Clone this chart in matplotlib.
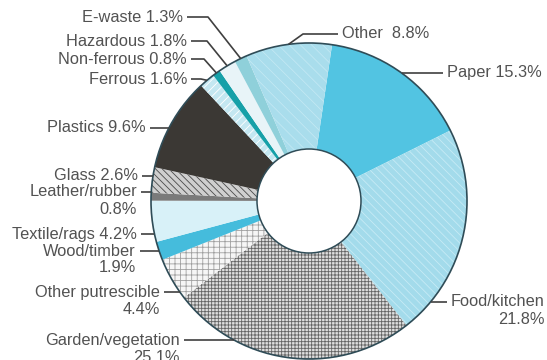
import numpy as np
import matplotlib
matplotlib.use("Agg")
import matplotlib.pyplot as plt

# Waste composition (percent), clockwise from the top
categories = ["Paper", "Food/kitchen", "Garden/vegetation", "Other putrescible",
              "Wood/timber", "Textile/rags", "Leather/rubber", "Glass", "Plastics",
              "Ferrous", "Non-ferrous", "Hazardous", "E-waste", "Other"]
values = [15.3, 21.8, 25.1, 4.4, 1.9, 4.2, 0.8, 2.6, 9.6, 1.6, 0.8, 1.8, 1.3, 8.8]

faces = ["#52c4e2", "#a3dbeb", "#dedede", "#f6f6f6", "#45bcdc", "#d8f1f8", "#7a7a7a",
         "#cfcfcf", "#3b3834", "#c4e7f1", "#16a0a8", "#e8f4f8", "#8fd0da", "#a9ddec"]
hatches = [None, "\\\\\\\\", "+++++", "+++", None, None, None,
           "\\\\\\\\\\", None, "////", None, None, None, "\\\\\\"]
hatch_cols = ["#52c4e2", "#c6ebf5", "#646464", "#a0a0a0", "#45bcdc", "#d8f1f8", "#7a7a7a",
              "#4a4a4a", "#3b3834", "#ffffff", "#16a0a8", "#e8f4f8", "#8fd0da", "#c2e8f3"]

W, H = 547, 360
CX, CY = 309, 201          # centre in pixel space (y down)
R_OUT, R_IN = 158, 52
START = 81.6               # degrees, first wedge starts just right of the top

plt.rcParams["hatch.linewidth"] = 0.6
plt.rcParams["font.family"] = ["Liberation Sans", "DejaVu Sans"]

fig = plt.figure(figsize=(W / 100, H / 100), dpi=100)
ax = fig.add_axes([0, 0, 1, 1])

def py(y):
    return H - y

wedges, _ = ax.pie(values, startangle=START, counterclock=False,
                   center=(CX, py(CY)), radius=R_OUT,
                   wedgeprops=dict(width=R_OUT - R_IN, linewidth=0))
for w, fc, hc, ht in zip(wedges, faces, hatch_cols, hatches):
    w.set_facecolor(fc)
    w.set_edgecolor(hc)
    w.set_linewidth(0)
    if ht:
        w.set_hatch(ht)

ring_col = "#2f4c57"
ax.add_patch(plt.Circle((CX, py(CY)), R_OUT, fill=False, ec=ring_col, lw=1.2, zorder=3))
ax.add_patch(plt.Circle((CX, py(CY)), R_IN, fill=False, ec=ring_col, lw=1.1, zorder=3))

ax.set_xlim(0, W)
ax.set_ylim(0, H)
ax.set_aspect("equal")
ax.axis("off")

# mid angle of each wedge, measured clockwise from the top
cum = np.cumsum([0] + values)
mid_cw = {c: (90 - START) + 3.6 * (cum[i] + cum[i + 1]) / 2 for i, c in enumerate(categories)}

def edge_at_angle(cat):
    a = np.deg2rad(mid_cw[cat])
    return CX + R_OUT * np.sin(a), CY - R_OUT * np.cos(a)

def edge_at_y(y, side):
    dx = np.sqrt(max(R_OUT ** 2 - (y - CY) ** 2, 0))
    return (CX + dx) if side == "right" else (CX - dx)

text_col = "#525252"
line_col = "#404040"
FS = 11.8
LH = 17

def label_lines(cat, split):
    val = values[categories.index(cat)]
    gap = "  " if cat == "Other" else " "
    if split:
        return [cat, f"{val}%"]
    return [f"{cat}{gap}{val}%"]

# (category, text x, first-line y, alignment, split into two lines, leader type, elbow x)
layout = [
    ("Paper", 447, 73, "left", False, "h", None),
    ("Food/kitchen", 545, 302, "right", True, "h", 447),
    ("Garden/vegetation", 180, 340, "right", True, "h", None),
    ("Other putrescible", 160, 292, "right", True, "h", None),
    ("Wood/timber", 136, 251, "right", True, "h", None),
    ("Textile/rags", 137, 234, "right", False, "h", None),
    ("Leather/rubber", 137, 192, "right", True, "h", None),
    ("Glass", 138, 176, "right", False, "h", None),
    ("Plastics", 146, 128, "right", False, "h", None),
    ("Ferrous", 187, 79, "right", False, "e", 201),
    ("Non-ferrous", 187, 59, "right", False, "e", 204),
    ("Hazardous", 187, 41, "right", False, "e", 207),
    ("E-waste", 183, 17, "right", False, "e", 208),
    ("Other", 342, 34, "left", False, "e", 303),
]

for cat, tx, ty, ha, split, kind, ex in layout:
    for i, line in enumerate(label_lines(cat, split)):
        ax.text(tx, py(ty + i * LH), line, ha=ha, va="center", fontsize=FS, color=text_col)
    if ha == "left":
        start_x = tx - 4
        side = "right"
    elif cat == "Food/kitchen":
        start_x = ex
        side = "right"
    else:
        start_x = tx + 4
        side = "left"
    if kind == "h":
        x_end = edge_at_y(ty, side)
        ax.plot([start_x, x_end], [py(ty), py(ty)], color=line_col, lw=1.2,
                solid_capstyle="butt", zorder=4)
    else:
        x_e, y_e = edge_at_angle(cat)
        ax.plot([start_x, ex, x_e], [py(ty), py(ty), py(y_e)], color=line_col, lw=1.2,
                solid_capstyle="butt", zorder=4)

fig.savefig("out.png", dpi=100, facecolor="white")
